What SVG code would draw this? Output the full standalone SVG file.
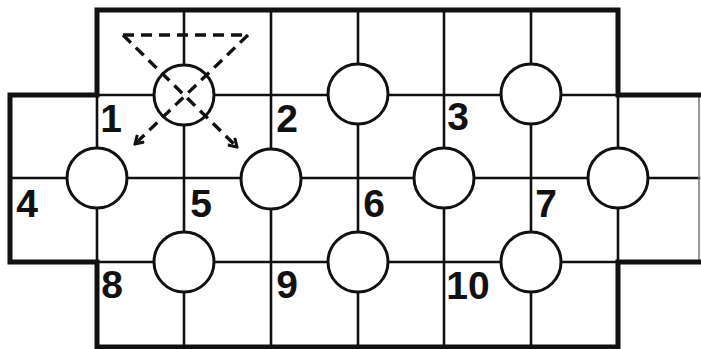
<svg xmlns="http://www.w3.org/2000/svg" width="701" height="349" viewBox="0 0 701 349">
<style>
.thin{stroke:#111;stroke-width:2.6;fill:none;stroke-linecap:square}
.thick{stroke:#111;stroke-width:5;fill:none;stroke-linecap:square}
.edge{stroke:#777;stroke-width:1.5;fill:none}
.hole{fill:#fff;stroke:#111;stroke-width:3}
.num{font-family:"Liberation Sans",Arial,sans-serif;font-weight:bold;font-size:39px;fill:#111;text-anchor:middle}
.dash{stroke:#111;stroke-width:3.4;fill:none;stroke-dasharray:11 7}
</style>
<defs>
<marker id="ah" markerUnits="userSpaceOnUse" viewBox="0 0 12 12" markerWidth="12" markerHeight="12" refX="10" refY="6" orient="auto">
<path d="M2,1 L10,6 L2,11" fill="none" stroke="#111" stroke-width="3"/>
</marker>
</defs>
<rect width="701" height="349" fill="#fff"/>
<g id="grid">
<path class="thin" d="M97,95 V262 M618,95 V262 M184,10 V347 M271,10 V347 M358,10 V347 M444,10 V347 M531,10 V347 M97,95 H618 M10,178 H699 M97,262 H618"/>
<path class="edge" d="M699,95 V262"/>
<path class="thick" d="M97,95 V10 H618 V95 H699 M10,95 H97 M10,95 V262 H97 V347 H618 V262 H699"/>
</g>
<g id="holes">
<circle class="hole" cx="184" cy="95" r="30"/>
<circle class="hole" cx="358" cy="94" r="30"/>
<circle class="hole" cx="531" cy="94" r="30"/>
<circle class="hole" cx="97" cy="178" r="30"/>
<circle class="hole" cx="271" cy="179" r="30"/>
<circle class="hole" cx="444" cy="178" r="30"/>
<circle class="hole" cx="618" cy="178" r="30"/>
<circle class="hole" cx="184" cy="262" r="30"/>
<circle class="hole" cx="358" cy="262" r="30"/>
<circle class="hole" cx="531" cy="262" r="30"/>
</g>
<g id="moves">
<line class="dash" x1="123" y1="35" x2="248" y2="35"/>
<line class="dash" x1="248" y1="35" x2="135" y2="144" marker-end="url(#ah)"/>
<line class="dash" x1="123" y1="35" x2="237" y2="147" marker-end="url(#ah)"/>
</g>
<g id="labels">
<text class="num" x="111" y="132">1</text>
<text class="num" x="287" y="132">2</text>
<text class="num" x="458" y="130">3</text>
<text class="num" x="27" y="217">4</text>
<text class="num" x="201" y="217">5</text>
<text class="num" x="374" y="217">6</text>
<text class="num" x="546" y="217">7</text>
<text class="num" x="112" y="298">8</text>
<text class="num" x="287" y="298">9</text>
<text class="num" x="468" y="299">10</text>
</g>
</svg>
